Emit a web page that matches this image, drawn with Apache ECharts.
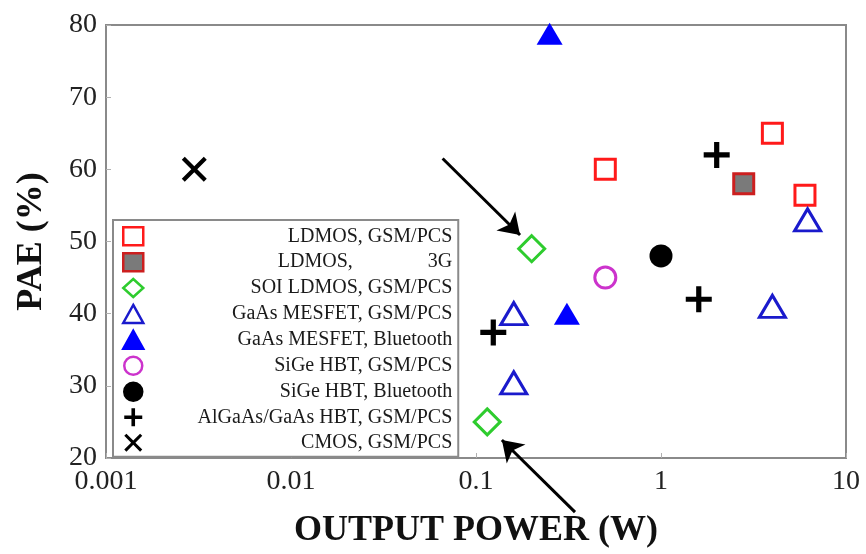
<!DOCTYPE html>
<html>
<head>
<meta charset="utf-8">
<script src="https://cdn.jsdelivr.net/npm/echarts@6/dist/echarts.min.js"></script>
<style>
  html, body { margin: 0; padding: 0; background: #fff; }
  #chart { width: 866px; height: 554px; }
</style>
</head>
<body>
<div id="chart"></div>
<script>
// Power-added efficiency versus output power for several PA technologies
const xTickLabels = ['0.001', '0.01', '0.1', '1', '10'];
const yTickLabels = ['20', '30', '40', '50', '60', '70', '80'];

const seriesNames = [
  'LDMOS, GSM/PCS',
  'LDMOS,               3G',
  'SOI LDMOS, GSM/PCS',
  'GaAs MESFET, GSM/PCS',
  'GaAs MESFET, Bluetooth',
  'SiGe HBT, GSM/PCS',
  'SiGe HBT, Bluetooth',
  'AlGaAs/GaAs HBT, GSM/PCS',
  'CMOS, GSM/PCS'
];

// [output power (W), PAE (%)]
const ldmosGsm      = [[0.5, 60], [4, 65], [6, 56.4]];
const ldmos3g       = [[2.8, 58]];
const soiLdmosGsm   = [[0.2, 49], [0.115, 25]];
const gaasMesfetGsm = [[6.2, 53], [4, 41], [0.16, 40], [0.16, 30.4]];
const gaasMesfetBt  = [[0.31, 40], [0.25, 78.8]];
const sigeHbtGsm    = [[0.5, 45]];
const sigeHbtBt     = [[1.0, 48]];
const algaasHbtGsm  = [[2.0, 62], [1.6, 42], [0.124, 37.4]];
const cmosGsm       = [[0.003, 60]];

// Annotation arrows pointing at the SOI LDMOS points: [from, to]
const arrowUpper = [[0.066, 61.5], [0.173, 50.9]];
const arrowLower = [[0.343, 12.5], [0.138, 22.5]];

const plusPath  = 'path://M4,0H6V4H10V6H6V10H4V6H0V4H4Z';
const crossPath = 'path://M1.2,0L5,3.8L8.8,0L10,1.2L6.2,5L10,8.8L8.8,10L5,6.2L1.2,10L0,8.8L3.8,5L0,1.2Z';

const serif = '"Liberation Serif", "DejaVu Serif", serif';

function scatter(name, data, symbol, size, itemStyle) {
  itemStyle.opacity = 1;
  return {
    name: name,
    type: 'scatter',
    data: data,
    symbol: symbol,
    symbolSize: size,
    clip: false,
    itemStyle: itemStyle,
    emphasis: { disabled: true },
    z: 3
  };
}

const chart = echarts.init(document.getElementById('chart'), null, { renderer: 'canvas' });

chart.setOption({
  animation: false,
  backgroundColor: '#ffffff',
  grid: {
    left: 106, right: 20, top: 25, bottom: 91,
    show: true, borderColor: '#8a8a8a', borderWidth: 2, backgroundColor: 'transparent'
  },
  xAxis: {
    type: 'log',
    logBase: 10,
    min: 0.001,
    max: 10,
    name: 'OUTPUT POWER (W)',
    nameLocation: 'middle',
    nameGap: 55,
    nameTextStyle: { fontFamily: serif, fontWeight: 'bold', fontSize: 36, color: '#111' },
    axisLine: { show: true, lineStyle: { color: '#8a8a8a', width: 2 } },
    axisTick: { show: true, inside: true, length: 5, lineStyle: { color: '#b0b0b0' } },
    minorTick: { show: false },
    splitLine: { show: false },
    axisLabel: {
      fontFamily: serif, fontSize: 28, color: '#222', margin: 10,
      formatter: function (v) {
        return xTickLabels[Math.round(Math.log10(v)) + 3];
      }
    }
  },
  yAxis: {
    type: 'value',
    min: 20,
    max: 80,
    interval: 10,
    name: 'PAE (%)',
    nameLocation: 'middle',
    nameGap: 56,
    nameTextStyle: { fontFamily: serif, fontWeight: 'bold', fontSize: 36, color: '#111' },
    axisLine: { show: true, lineStyle: { color: '#8a8a8a', width: 2 } },
    axisTick: { show: true, inside: true, length: 5, lineStyle: { color: '#b0b0b0' } },
    splitLine: { show: false },
    axisLabel: {
      fontFamily: serif, fontSize: 28, color: '#222', margin: 9,
      formatter: function (v) {
        return yTickLabels[Math.round((v - 20) / 10)];
      }
    }
  },
  legend: {
    orient: 'vertical',
    left: 113,
    top: 220,
    backgroundColor: '#ffffff',
    borderColor: '#8a8a8a',
    borderWidth: 2,
    padding: [6, 6, 4, 9],
    itemGap: 5.4,
    itemWidth: 20,
    itemHeight: 18,
    selectedMode: false,
    data: seriesNames,
    itemStyle: { borderWidth: 2.5 },
    formatter: function (name) { return '{t|' + name + '}'; },
    textStyle: {
      fontFamily: serif, fontSize: 20, lineHeight: 20,
      rich: {
        t: { fontFamily: serif, fontSize: 20, color: '#1a1a1a', width: 304, align: 'right', lineHeight: 20 }
      }
    }
  },
  series: [
    scatter(seriesNames[0], ldmosGsm, 'rect', 20,
      { color: '#ffffff', borderColor: '#ff1a1a', borderWidth: 3 }),
    scatter(seriesNames[1], ldmos3g, 'rect', 20,
      { color: '#7a7a7a', borderColor: '#cc1f1f', borderWidth: 3 }),
    scatter(seriesNames[2], soiLdmosGsm, 'diamond', 26,
      { color: '#ffffff', borderColor: '#2ecc2e', borderWidth: 3 }),
    scatter(seriesNames[3], gaasMesfetGsm, 'triangle', [26, 22],
      { color: '#ffffff', borderColor: '#1a1acc', borderWidth: 3 }),
    scatter(seriesNames[4], gaasMesfetBt, 'triangle', [26, 22],
      { color: '#0000ff', borderColor: '#0000ff', borderWidth: 0 }),
    scatter(seriesNames[5], sigeHbtGsm, 'circle', 21,
      { color: '#ffffff', borderColor: '#cc33cc', borderWidth: 3 }),
    scatter(seriesNames[6], sigeHbtBt, 'circle', 23,
      { color: '#000000', borderColor: '#000000', borderWidth: 0 }),
    scatter(seriesNames[7], algaasHbtGsm, plusPath, 26,
      { color: '#000000' }),
    scatter(seriesNames[8], cmosGsm, crossPath, 25,
      { color: '#000000' }),
    {
      type: 'lines',
      coordinateSystem: 'cartesian2d',
      clip: false,
      silent: true,
      symbol: ['none', 'arrow'],
      symbolSize: 20,
      lineStyle: { color: '#000000', width: 3, opacity: 1 },
      data: [{ coords: arrowUpper }, { coords: arrowLower }],
      z: 4
    }
  ]
});
</script>
</body>
</html>
